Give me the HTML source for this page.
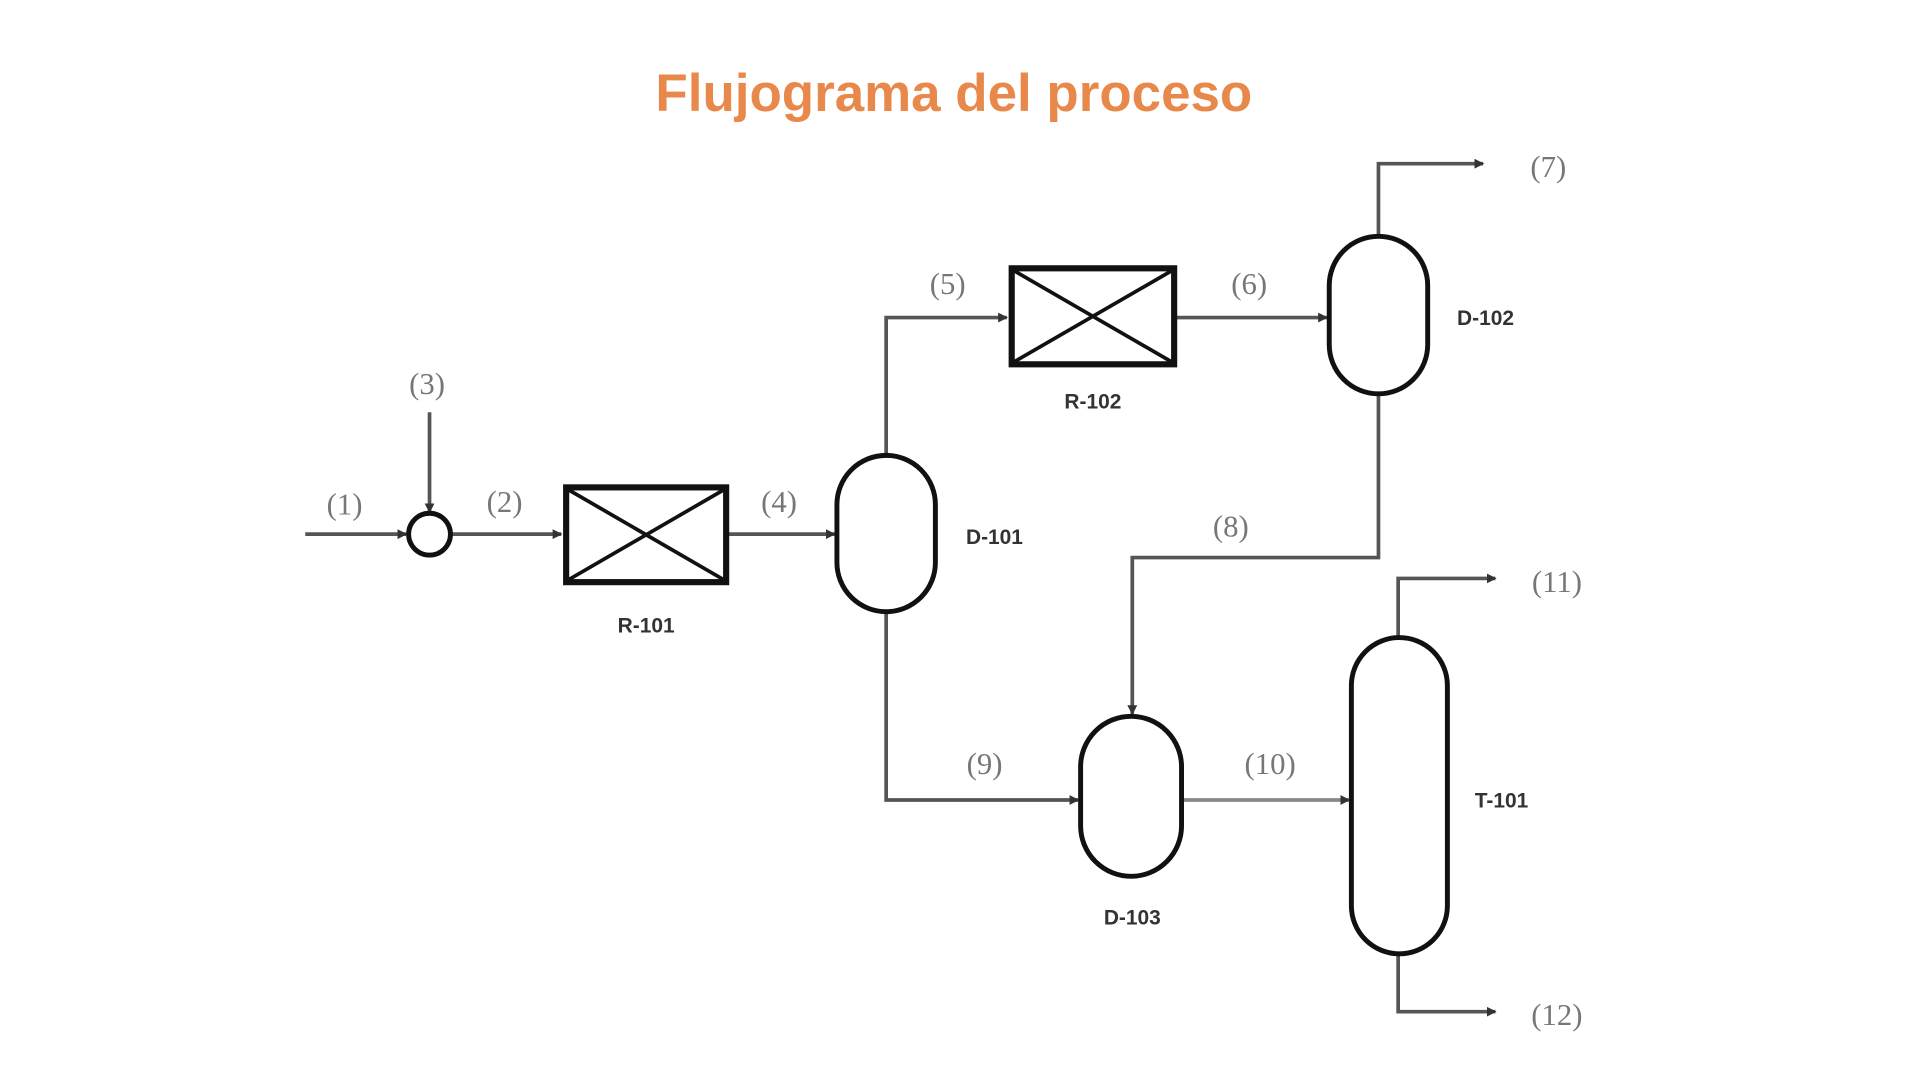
<!DOCTYPE html>
<html><head><meta charset="utf-8"><style>
html,body{margin:0;padding:0;background:#fff;width:1920px;height:1080px;overflow:hidden}
svg{display:block}
.l{font-family:"Liberation Serif",serif;font-size:25px;fill:#777;text-anchor:middle}
.e{font-family:"Liberation Sans",sans-serif;font-size:17px;font-weight:bold;fill:#333;text-anchor:middle}
</style></head><body>
<svg width="1920" height="1080" viewBox="0 0 1560 877.5">
<defs><marker id="a" markerWidth="8" markerHeight="8" refX="7" refY="4" orient="auto" markerUnits="userSpaceOnUse"><path d="M0,0 L8,4 L0,8 z" fill="#333"/></marker></defs>
<text x="775" y="90" font-family="Liberation Sans,sans-serif" font-size="43" font-weight="bold" fill="#E8884A" text-anchor="middle">Flujograma del proceso</text>
<g fill="none" stroke="#555" stroke-width="3">
<path d="M248,434 H330" marker-end="url(#a)"/>
<path d="M349,335 V416" marker-end="url(#a)"/>
<path d="M367,434 H456" marker-end="url(#a)"/>
<path d="M592,434 H678" marker-end="url(#a)"/>
<path d="M720,370 V258 H818" marker-end="url(#a)"/>
<path d="M956,258 H1078" marker-end="url(#a)"/>
<path d="M1120,192 V133 H1205" marker-end="url(#a)"/>
<path d="M1120,320 V453 H920 V580" marker-end="url(#a)"/>
<path d="M720,497 V650 H876" marker-end="url(#a)"/>
<path d="M960,650 H1096" marker-end="url(#a)" stroke="#888"/>
<path d="M1136,518 V470 H1215" marker-end="url(#a)"/>
<path d="M1136,775 V822 H1215" marker-end="url(#a)"/>
</g>
<g fill="#fff" stroke="#111" stroke-width="4">
<circle cx="349" cy="434" r="17"/>
<rect x="460" y="396" width="130" height="77" stroke-width="5"/>
<path d="M462,398 L588,471 M588,398 L462,471" stroke-width="3" fill="none"/>
<rect x="822" y="218" width="132" height="78" stroke-width="5"/>
<path d="M824,220 L952,294 M952,220 L824,294" stroke-width="3" fill="none"/>
<rect x="680" y="370" width="80" height="127" rx="40"/>
<rect x="1080" y="192" width="80" height="128" rx="40"/>
<rect x="878" y="582" width="82" height="130" rx="41"/>
<rect x="1098" y="518" width="78" height="257" rx="39"/>
</g>
<text class="l" x="280" y="418">(1)</text>
<text class="l" x="347" y="320">(3)</text>
<text class="l" x="410" y="416">(2)</text>
<text class="l" x="633" y="416">(4)</text>
<text class="l" x="770" y="239">(5)</text>
<text class="l" x="1015" y="239">(6)</text>
<text class="l" x="1258" y="144">(7)</text>
<text class="l" x="1000" y="436">(8)</text>
<text class="l" x="800" y="629">(9)</text>
<text class="l" x="1032" y="629">(10)</text>
<text class="l" x="1265" y="481">(11)</text>
<text class="l" x="1265" y="833">(12)</text>
<text class="e" x="525" y="514">R-101</text>
<text class="e" x="888" y="332">R-102</text>
<text class="e" x="808" y="442">D-101</text>
<text class="e" x="1207" y="264">D-102</text>
<text class="e" x="920" y="751">D-103</text>
<text class="e" x="1220" y="656">T-101</text>
</svg>
</body></html>
